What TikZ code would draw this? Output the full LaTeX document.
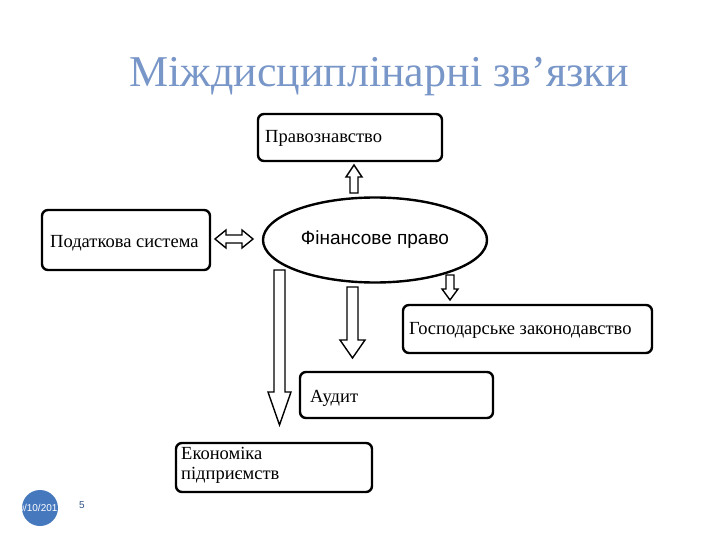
\documentclass[tikz,border=0pt]{standalone}
\usepackage{fontspec}
\setmainfont{Liberation Serif}
\newfontfamily\sansf{Liberation Sans}
\usetikzlibrary{shapes.geometric}
\definecolor{titleblue}{RGB}{120,150,200}
\definecolor{dotblue}{RGB}{70,120,190}
\tikzset{
 bx/.style={draw,line width=2.4pt,rounded corners=6pt},
 tx/.style={anchor=west,font=\fontsize{18.5}{20}\selectfont,inner sep=0pt},
 blk/.style={draw,line width=1.4pt,fill=white},
}
\begin{document}
\begin{tikzpicture}[x=1pt,y=-1pt]
\useasboundingbox (0,0) rectangle (720,540);
\node[text=titleblue,font=\fontsize{44}{46}\selectfont] (title) at (379,77) {Міждисциплінарні зв’язки};
% boxes
\draw[bx] (258,114) rectangle (442,161); \node[tx] (pr) at (265,138) {Правознавство};
\draw[bx] (42,210) rectangle (210,270); \node[tx] (pod) at (50,243) {Податкова система};
\draw[bx] (403,305) rectangle (652,353); \node[tx] (gos) at (409,330) {Господарське законодавство};
\draw[bx] (300,372) rectangle (493,418); \node[tx] (aud) at (310,398) {Аудит};
\draw[bx] (176,443) rectangle (372,492);
\node[tx,align=left,anchor=north west] (eko) at (181,447) {Економіка\\підприємств};
\node[draw,ellipse,line width=2.4pt,minimum width=224pt,minimum height=85pt,font=\sansf\fontsize{19}{21}\selectfont] (fin) at (375,240) {Фінансове право};
% block arrows
\draw[blk] (350,193) -- (350,177) -- (346,177) -- (354,165) -- (362,177) -- (358,177) -- (358,193) -- cycle;
\draw[blk] (215,239) -- (226,230) -- (226,235) -- (242,235) -- (242,230) -- (253,239) -- (242,248) -- (242,243) -- (226,243) -- (226,248) -- cycle;
\draw[blk] (274,270) -- (285,270) -- (285,392) -- (291,392) -- (279.5,425) -- (268,392) -- (274,392) -- cycle;
\draw[blk] (347,287) -- (358,287) -- (358,340) -- (365,340) -- (352.5,358) -- (340,340) -- (347,340) -- cycle;
\draw[blk] (446,275) -- (454,275) -- (454,289) -- (458,289) -- (450,300) -- (442,289) -- (446,289) -- cycle;
% footer
\begin{scope}
\fill[dotblue] (40,508) circle (18);
\clip (40,508) circle (18);
\node[text=white,font=\sansf\fontsize{10}{12}\selectfont] (date) at (38,508) {10/10/2017};
\end{scope}
\node[text=dotblue!70!black,font=\sansf\fontsize{10}{12}\selectfont] (num) at (82,505) {5};
\end{tikzpicture}
\end{document}
